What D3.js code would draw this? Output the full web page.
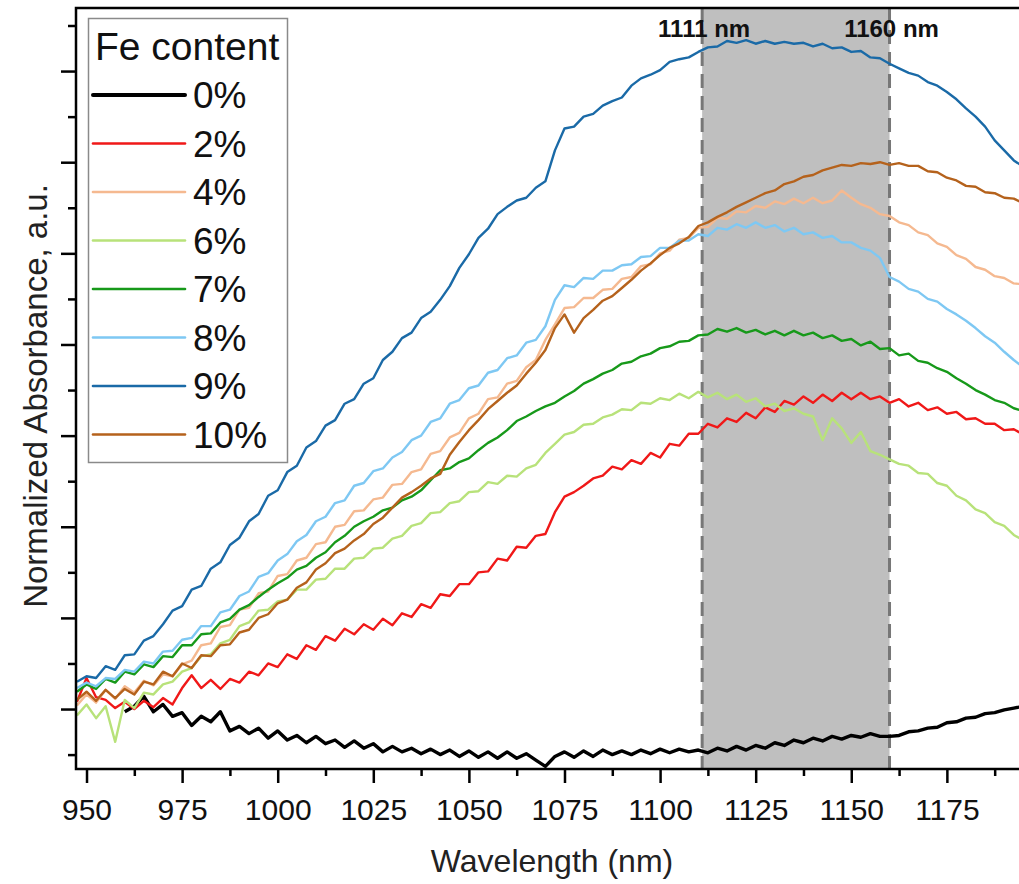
<!DOCTYPE html>
<html>
<head>
<meta charset="utf-8">
<script src="https://cdn.jsdelivr.net/npm/d3@7"></script>
<style>
  html, body { margin: 0; padding: 0; background: #fff; }
  svg { display: block; font-family: "Liberation Sans", Arial, Helvetica, sans-serif; }
</style>
</head>
<body>
<svg id="chart" width="1019" height="884"></svg>
<script>
// ---- data -------------------------------------------------------------
// Spectra sampled every 2.5 nm; each series lists its first wavelength.
const gridStep = 2.5;
const seriesLabels = ["0%", "2%", "4%", "6%", "7%", "8%", "9%", "10%"];
const seriesStart  = [960, 947.5, 947.5, 947.5, 947.5, 947.5, 947.5, 947.5];

// 0 % Fe
const abs0 = [
  -0.003, 0.003, 0.014, -0.003, 0.005, -0.008, -0.004, -0.018, -0.008, -0.014,
  -0.003, -0.024, -0.019, -0.027, -0.021, -0.032, -0.024, -0.034, -0.029, -0.037,
  -0.030, -0.038, -0.034, -0.042, -0.035, -0.043, -0.038, -0.047, -0.041, -0.047,
  -0.043, -0.049, -0.044, -0.050, -0.045, -0.052, -0.046, -0.053, -0.047, -0.054,
  -0.047, -0.054, -0.049, -0.056, -0.063, -0.052, -0.047, -0.053, -0.046, -0.052,
  -0.045, -0.050, -0.046, -0.050, -0.045, -0.049, -0.044, -0.048, -0.044, -0.047,
  -0.045, -0.048, -0.043, -0.046, -0.041, -0.045, -0.040, -0.043, -0.037, -0.040,
  -0.034, -0.037, -0.032, -0.035, -0.030, -0.033, -0.029, -0.031, -0.027, -0.030,
  -0.030, -0.029, -0.025, -0.024, -0.021, -0.020, -0.015, -0.014, -0.010, -0.009,
  -0.005, -0.004, -0.001, 0.001, 0.003
];
// 2 % Fe
const abs2 = [
  0.008, 0.034, 0.013, 0.010, 0.001, 0.008, 0.000, 0.009, 0.002, 0.012,
  0.005, 0.023, 0.037, 0.023, 0.032, 0.022, 0.033, 0.029, 0.041, 0.037,
  0.050, 0.046, 0.060, 0.055, 0.070, 0.065, 0.080, 0.075, 0.088, 0.082,
  0.093, 0.087, 0.099, 0.092, 0.105, 0.101, 0.115, 0.111, 0.126, 0.124,
  0.137, 0.137, 0.150, 0.151, 0.165, 0.163, 0.178, 0.177, 0.190, 0.192,
  0.216, 0.233, 0.238, 0.245, 0.253, 0.256, 0.266, 0.263, 0.273, 0.269,
  0.281, 0.276, 0.291, 0.289, 0.302, 0.302, 0.313, 0.309, 0.319, 0.315,
  0.325, 0.319, 0.331, 0.326, 0.338, 0.334, 0.343, 0.336, 0.345, 0.338,
  0.347, 0.340, 0.347, 0.340, 0.343, 0.336, 0.340, 0.332, 0.336, 0.328,
  0.331, 0.324, 0.326, 0.318, 0.319, 0.313, 0.313, 0.306, 0.307, 0.301
];
// 4 % Fe
const abs4 = [
  0.004, 0.016, 0.007, 0.021, 0.011, 0.025, 0.018, 0.031, 0.026, 0.038,
  0.036, 0.049, 0.053, 0.070, 0.072, 0.090, 0.092, 0.109, 0.111, 0.127,
  0.129, 0.146, 0.148, 0.163, 0.166, 0.181, 0.183, 0.200, 0.202, 0.217,
  0.218, 0.230, 0.232, 0.246, 0.247, 0.260, 0.263, 0.280, 0.283, 0.298,
  0.303, 0.319, 0.324, 0.340, 0.342, 0.357, 0.360, 0.375, 0.383, 0.405,
  0.422, 0.440, 0.441, 0.451, 0.451, 0.460, 0.461, 0.472, 0.474, 0.486,
  0.488, 0.500, 0.503, 0.515, 0.517, 0.528, 0.529, 0.539, 0.538, 0.546,
  0.545, 0.552, 0.550, 0.557, 0.554, 0.560, 0.555, 0.561, 0.555, 0.558,
  0.569, 0.561, 0.554, 0.550, 0.543, 0.541, 0.534, 0.531, 0.523, 0.520,
  0.511, 0.507, 0.498, 0.494, 0.485, 0.482, 0.475, 0.473, 0.467, 0.466
];
// 6 % Fe
const abs6 = [
  -0.007, 0.005, -0.010, 0.003, -0.036, 0.010, 0.001, 0.018, 0.016, 0.027,
  0.030, 0.041, 0.045, 0.058, 0.060, 0.072, 0.076, 0.091, 0.095, 0.108,
  0.109, 0.118, 0.120, 0.131, 0.131, 0.142, 0.143, 0.154, 0.154, 0.165,
  0.166, 0.176, 0.177, 0.187, 0.190, 0.201, 0.204, 0.215, 0.216, 0.226,
  0.228, 0.238, 0.239, 0.249, 0.247, 0.256, 0.255, 0.264, 0.268, 0.281,
  0.291, 0.301, 0.304, 0.312, 0.313, 0.320, 0.323, 0.329, 0.328, 0.336,
  0.335, 0.341, 0.339, 0.346, 0.341, 0.348, 0.342, 0.347, 0.340, 0.345,
  0.337, 0.341, 0.332, 0.335, 0.327, 0.330, 0.324, 0.321, 0.295, 0.319,
  0.308, 0.292, 0.304, 0.283, 0.279, 0.274, 0.269, 0.267, 0.259, 0.258,
  0.248, 0.245, 0.234, 0.229, 0.219, 0.215, 0.205, 0.201, 0.191, 0.185
];
// 7 % Fe
const abs7 = [
  0.019, 0.027, 0.022, 0.033, 0.029, 0.041, 0.038, 0.049, 0.046, 0.058,
  0.057, 0.070, 0.070, 0.082, 0.083, 0.095, 0.099, 0.109, 0.114, 0.123,
  0.131, 0.138, 0.144, 0.153, 0.157, 0.166, 0.172, 0.183, 0.190, 0.200,
  0.206, 0.211, 0.218, 0.221, 0.229, 0.233, 0.240, 0.251, 0.262, 0.264,
  0.271, 0.275, 0.284, 0.292, 0.298, 0.306, 0.316, 0.321, 0.327, 0.332,
  0.336, 0.343, 0.349, 0.357, 0.362, 0.368, 0.372, 0.379, 0.381, 0.387,
  0.390, 0.396, 0.398, 0.403, 0.404, 0.410, 0.411, 0.417, 0.414, 0.418,
  0.413, 0.416, 0.411, 0.415, 0.410, 0.415, 0.410, 0.413, 0.407, 0.410,
  0.404, 0.406, 0.399, 0.403, 0.395, 0.396, 0.388, 0.390, 0.382, 0.380,
  0.374, 0.370, 0.363, 0.357, 0.350, 0.345, 0.339, 0.336, 0.330, 0.327
];
// 8 % Fe
const abs8 = [
  0.023, 0.029, 0.025, 0.034, 0.033, 0.043, 0.041, 0.052, 0.050, 0.063,
  0.064, 0.076, 0.078, 0.091, 0.091, 0.106, 0.109, 0.124, 0.129, 0.145,
  0.149, 0.163, 0.170, 0.184, 0.191, 0.206, 0.211, 0.226, 0.229, 0.245,
  0.248, 0.261, 0.264, 0.276, 0.282, 0.295, 0.300, 0.315, 0.319, 0.335,
  0.339, 0.352, 0.355, 0.369, 0.372, 0.385, 0.388, 0.402, 0.405, 0.420,
  0.449, 0.465, 0.463, 0.473, 0.472, 0.481, 0.481, 0.487, 0.488, 0.496,
  0.497, 0.506, 0.506, 0.514, 0.514, 0.521, 0.519, 0.528, 0.526, 0.532,
  0.528, 0.534, 0.528, 0.531, 0.524, 0.528, 0.521, 0.523, 0.517, 0.519,
  0.512, 0.512, 0.506, 0.503, 0.495, 0.474, 0.469, 0.461, 0.458, 0.450,
  0.447, 0.439, 0.433, 0.426, 0.418, 0.409, 0.402, 0.392, 0.383, 0.375
];
// 9 % Fe
const abs9 = [
  0.030, 0.036, 0.034, 0.047, 0.043, 0.059, 0.060, 0.075, 0.080, 0.093,
  0.108, 0.113, 0.131, 0.135, 0.154, 0.161, 0.180, 0.188, 0.206, 0.214,
  0.234, 0.240, 0.260, 0.267, 0.287, 0.294, 0.311, 0.317, 0.335, 0.340,
  0.357, 0.363, 0.383, 0.392, 0.407, 0.413, 0.429, 0.436, 0.449, 0.464,
  0.484, 0.499, 0.517, 0.527, 0.543, 0.551, 0.558, 0.561, 0.572, 0.579,
  0.613, 0.637, 0.639, 0.650, 0.653, 0.662, 0.667, 0.671, 0.684, 0.692,
  0.696, 0.701, 0.710, 0.713, 0.715, 0.721, 0.726, 0.727, 0.733, 0.731,
  0.734, 0.730, 0.733, 0.730, 0.732, 0.730, 0.731, 0.727, 0.730, 0.725,
  0.726, 0.721, 0.722, 0.715, 0.714, 0.708, 0.703, 0.698, 0.695, 0.688,
  0.684, 0.677, 0.669, 0.659, 0.650, 0.639, 0.624, 0.613, 0.602, 0.595
];
// 10 % Fe
const abs10 = [
  0.010, 0.019, 0.009, 0.021, 0.012, 0.022, 0.016, 0.030, 0.027, 0.041,
  0.036, 0.050, 0.045, 0.059, 0.058, 0.070, 0.071, 0.084, 0.087, 0.100,
  0.104, 0.116, 0.120, 0.133, 0.139, 0.153, 0.160, 0.171, 0.176, 0.185,
  0.192, 0.203, 0.210, 0.221, 0.232, 0.238, 0.245, 0.253, 0.258, 0.279,
  0.293, 0.306, 0.317, 0.329, 0.338, 0.347, 0.355, 0.368, 0.380, 0.394,
  0.418, 0.433, 0.413, 0.429, 0.438, 0.448, 0.453, 0.462, 0.471, 0.481,
  0.489, 0.498, 0.506, 0.511, 0.518, 0.530, 0.534, 0.540, 0.545, 0.551,
  0.556, 0.561, 0.566, 0.569, 0.576, 0.579, 0.584, 0.586, 0.591, 0.594,
  0.597, 0.596, 0.599, 0.598, 0.600, 0.597, 0.599, 0.596, 0.596, 0.590,
  0.589, 0.583, 0.580, 0.574, 0.573, 0.567, 0.566, 0.561, 0.560, 0.555
];

const seriesValues = [abs0, abs2, abs4, abs6, abs7, abs8, abs9, abs10];

// axis ticks
const xMajorTicks = [950, 975, 1000, 1025, 1050, 1075, 1100, 1125, 1150, 1175];
const xMinorTicks = [962.5, 987.5, 1012.5, 1037.5, 1062.5, 1087.5, 1112.5, 1137.5, 1162.5, 1187.5];
const yMajorTicks = [0, 0.1, 0.2, 0.3, 0.4, 0.5, 0.6, 0.7];
const yMinorTicks = [-0.05, 0.05, 0.15, 0.25, 0.35, 0.45, 0.55, 0.65, 0.75];

// highlighted band
const bandEdges  = [1111, 1160];
const bandLabels = ["1111 nm", "1160 nm"];

// ---- styles -----------------------------------------------------------
const seriesColors = ["#000000", "#f01818", "#f5b990", "#b8e27a", "#17991a", "#7ec8f3", "#1a6aa7", "#b5621c"];
const seriesWidths = [3.4, 2.4, 2.4, 2.4, 2.4, 2.4, 2.4, 2.4];

// ---- layout -----------------------------------------------------------
const plotLeft = 76, plotTop = 8, plotBottom = 769, plotRight = 1031;

const svg = d3.select("#chart");

const x = d3.scaleLinear().domain([947.25, 1197]).range([plotLeft, plotRight]);
const y = d3.scaleLinear().domain([-0.0658, 0.7692]).range([plotBottom, plotTop]);

svg.append("defs").append("clipPath").attr("id", "plotClip")
  .append("rect")
  .attr("x", plotLeft).attr("y", plotTop)
  .attr("width", plotRight - plotLeft).attr("height", plotBottom - plotTop);

// grey band between the two wavelengths
svg.append("rect")
  .attr("x", x(bandEdges[0]))
  .attr("y", plotTop)
  .attr("width", x(bandEdges[1]) - x(bandEdges[0]))
  .attr("height", plotBottom - plotTop)
  .attr("fill", "#bfbfbf");

// dashed band edges
svg.selectAll("line.edge").data(bandEdges).join("line")
  .attr("class", "edge")
  .attr("x1", d => x(d)).attr("x2", d => x(d))
  .attr("y1", plotTop).attr("y2", plotBottom)
  .attr("stroke", "#777")
  .attr("stroke-width", 3)
  .attr("stroke-dasharray", "14,8");

// spectra
const line = d3.line()
  .x(d => x(d[0]))
  .y(d => y(d[1]));

const curves = svg.append("g").attr("clip-path", "url(#plotClip)");
seriesValues.forEach((vals, i) => {
  const pts = vals.map((v, k) => [seriesStart[i] + k * gridStep, v]);
  curves.append("path")
    .datum(pts)
    .attr("d", line)
    .attr("fill", "none")
    .attr("stroke", seriesColors[i])
    .attr("stroke-width", seriesWidths[i])
    .attr("stroke-linejoin", "round");
});

// axes
const axisStroke = 2.5;

const gx = svg.append("g").attr("transform", `translate(0,${plotBottom})`);
gx.call(d3.axisBottom(x).tickValues(xMajorTicks).tickSize(14).tickFormat(d3.format("d")));
gx.select(".domain").remove();
gx.selectAll(".tick line").attr("stroke-width", axisStroke);
gx.selectAll(".tick text")
  .attr("y", 51).attr("dy", 0)
  .attr("font-size", 30)
  .attr("font-family", "Liberation Sans, Arial, sans-serif")
  .attr("fill", "#111");

const gxm = svg.append("g").attr("transform", `translate(0,${plotBottom})`);
gxm.call(d3.axisBottom(x).tickValues(xMinorTicks).tickSize(7).tickFormat(""));
gxm.select(".domain").remove();
gxm.selectAll(".tick line").attr("stroke-width", axisStroke);

const gy = svg.append("g").attr("transform", `translate(${plotLeft},0)`);
gy.call(d3.axisLeft(y).tickValues(yMajorTicks).tickSize(15).tickFormat(""));
gy.select(".domain").remove();
gy.selectAll(".tick line").attr("stroke-width", axisStroke);

const gym = svg.append("g").attr("transform", `translate(${plotLeft},0)`);
gym.call(d3.axisLeft(y).tickValues(yMinorTicks).tickSize(8).tickFormat(""));
gym.select(".domain").remove();
gym.selectAll(".tick line").attr("stroke-width", axisStroke);

// frame
svg.append("rect")
  .attr("x", plotLeft).attr("y", plotTop)
  .attr("width", plotRight - plotLeft + 20).attr("height", plotBottom - plotTop)
  .attr("fill", "none")
  .attr("stroke", "#000")
  .attr("stroke-width", axisStroke);

// axis titles
svg.append("text")
  .attr("x", 552).attr("y", 872)
  .attr("text-anchor", "middle")
  .attr("font-size", 32)
  .attr("fill", "#222")
  .text("Wavelength (nm)");

svg.append("text")
  .attr("transform", "translate(47,396) rotate(-90)")
  .attr("text-anchor", "middle")
  .attr("font-size", 33)
  .attr("fill", "#222")
  .text("Normalized Absorbance, a.u.");

// band labels
svg.selectAll("text.band").data(bandEdges).join("text")
  .attr("class", "band")
  .attr("x", d => x(d) + 2)
  .attr("y", 37)
  .attr("text-anchor", "middle")
  .attr("font-size", 24)
  .attr("font-weight", "bold")
  .attr("fill", "#111")
  .text((d, i) => bandLabels[i]);

// legend
const legend = svg.append("g");
legend.append("rect")
  .attr("x", 88.5).attr("y", 18.5)
  .attr("width", 199).attr("height", 444)
  .attr("fill", "#fff")
  .attr("stroke", "#8a8a8a")
  .attr("stroke-width", 1.5);
legend.append("text")
  .attr("x", 95).attr("y", 60)
  .attr("font-size", 39)
  .attr("fill", "#111")
  .text("Fe content");

const rowY = d3.scaleLinear().domain([0, 1]).range([95, 143.5]);
const rows = legend.selectAll("g.row").data(seriesLabels).join("g")
  .attr("class", "row")
  .attr("transform", (d, i) => `translate(0,${rowY(i)})`);
rows.append("line")
  .attr("x1", 93).attr("x2", 185)
  .attr("y1", 0).attr("y2", 0)
  .attr("stroke", (d, i) => seriesColors[i])
  .attr("stroke-width", (d, i) => i === 0 ? 4 : 2.6)
  .attr("stroke-linecap", "round");
rows.append("text")
  .attr("x", 193).attr("y", 13)
  .attr("font-size", 37)
  .attr("fill", "#111")
  .text(d => d);
</script>
</body>
</html>
